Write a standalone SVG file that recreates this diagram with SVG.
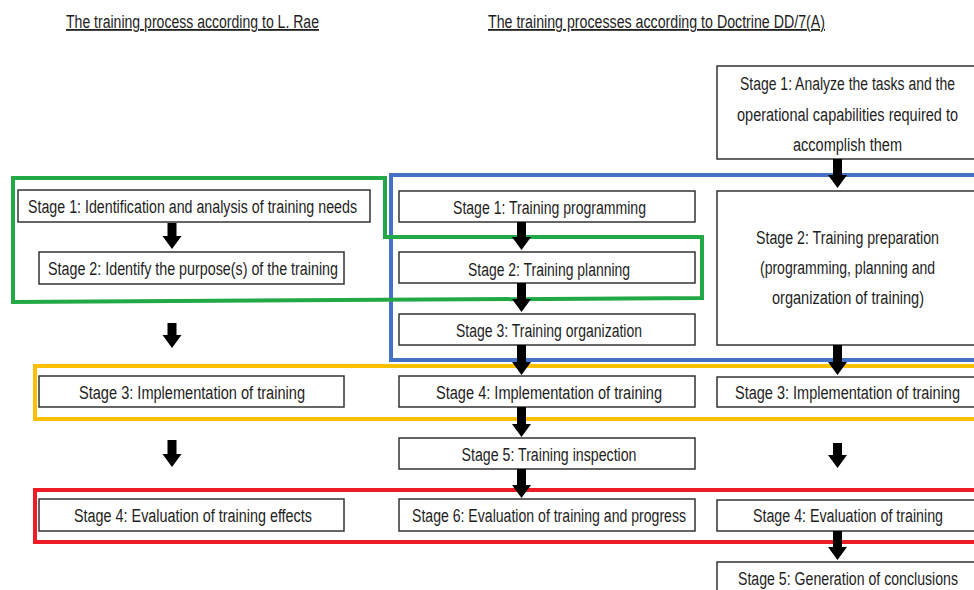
<svg xmlns="http://www.w3.org/2000/svg" width="974" height="590" viewBox="0 0 974 590">
<style>
  text { font-family: "Liberation Sans Narrow", "Liberation Sans", Arial, sans-serif; font-size: 18px; fill: #1e1e1e; text-anchor: middle; }
  .title { text-decoration: underline; }
  .box { fill: #fff; stroke: #333; stroke-width: 1.5; }
  .bg { fill: #fff; stroke: none; }
  .edge { fill: none; stroke: #333; stroke-width: 1.5; }
  .grp { fill: none; stroke-width: 4; stroke-linejoin: miter; }
  .arr { fill: #000; }
</style>
<rect width="974" height="590" fill="#fff"/>

<g id="titles">
  <text class="title" x="192.5" y="28" textLength="253" lengthAdjust="spacingAndGlyphs">The training process according to L. Rae</text>
  <text class="title" x="656.5" y="28" textLength="337" lengthAdjust="spacingAndGlyphs">The training processes according to Doctrine DD/7(A)</text>
</g>

<g id="groupings">
  <path id="blue-frame" class="grp" stroke="#4472C4" d="M974,175 H391 V360 H974"/>
  <path id="green-frame" class="grp" stroke="#22A845" d="M13,178 H385 V237 H702 V298 L13,302 Z"/>
  <path id="yellow-frame" class="grp" stroke="#FFC000" d="M974,366 H35 V419 H974"/>
  <path id="red-frame" class="grp" stroke="#EE1C25" d="M974,490 H35 V542 H974"/>
</g>

<g id="rae-s1"><rect class="box" x="18" y="190" width="352" height="32"/><text x="192.5" y="213" textLength="329" lengthAdjust="spacingAndGlyphs">Stage 1: Identification and analysis of training needs</text></g>
<g id="rae-s2"><rect class="box" x="39" y="252" width="305" height="32"/><text x="193" y="275" textLength="290" lengthAdjust="spacingAndGlyphs">Stage 2: Identify the purpose(s) of the training</text></g>
<g id="rae-s3"><rect class="box" x="39" y="376" width="305" height="31"/><text x="192" y="399" textLength="226" lengthAdjust="spacingAndGlyphs">Stage 3: Implementation of training</text></g>
<g id="rae-s4"><rect class="box" x="39" y="499" width="305" height="32"/><text x="193" y="522" textLength="238" lengthAdjust="spacingAndGlyphs">Stage 4: Evaluation of training effects</text></g>

<g id="dd-s1"><rect class="box" x="399" y="191" width="296" height="31"/><text x="549.5" y="214" textLength="193" lengthAdjust="spacingAndGlyphs">Stage 1: Training programming</text></g>
<g id="dd-s2"><rect class="box" x="399" y="252" width="296" height="31"/><text x="549" y="276" textLength="162" lengthAdjust="spacingAndGlyphs">Stage 2: Training planning</text></g>
<g id="dd-s3"><rect class="box" x="399" y="314" width="296" height="31"/><text x="549" y="337" textLength="186" lengthAdjust="spacingAndGlyphs">Stage 3: Training organization</text></g>
<g id="dd-s4"><rect class="box" x="399" y="376" width="296" height="31"/><text x="549" y="399" textLength="226" lengthAdjust="spacingAndGlyphs">Stage 4: Implementation of training</text></g>
<g id="dd-s5"><rect class="box" x="399" y="438" width="296" height="31"/><text x="549" y="461" textLength="175" lengthAdjust="spacingAndGlyphs">Stage 5: Training inspection</text></g>
<g id="dd-s6"><rect class="box" x="399" y="499" width="296" height="32"/><text x="549" y="522" textLength="274" lengthAdjust="spacingAndGlyphs">Stage 6: Evaluation of training and progress</text></g>

<g id="r-s1"><rect class="bg" x="717" y="66" width="257" height="93"/><path class="edge" d="M974,66 H717 V159 H974"/>
  <text x="847.5" y="90" textLength="215" lengthAdjust="spacingAndGlyphs">Stage 1: Analyze the tasks and the</text>
  <text x="847.5" y="121" textLength="221" lengthAdjust="spacingAndGlyphs">operational capabilities required to</text>
  <text x="847.5" y="151" textLength="109" lengthAdjust="spacingAndGlyphs">accomplish them</text></g>
<g id="r-s2"><rect class="bg" x="717" y="191" width="257" height="154"/><path class="edge" d="M974,191 H717 V345 H974"/>
  <text x="847.5" y="244" textLength="183" lengthAdjust="spacingAndGlyphs">Stage 2: Training preparation</text>
  <text x="847.5" y="274" textLength="175" lengthAdjust="spacingAndGlyphs">(programming, planning and</text>
  <text x="848" y="304" textLength="152" lengthAdjust="spacingAndGlyphs">organization of training)</text></g>
<g id="r-s3"><rect class="bg" x="717" y="377" width="257" height="30"/><path class="edge" d="M974,377 H717 V407 H974"/><text x="847.5" y="399" textLength="225" lengthAdjust="spacingAndGlyphs">Stage 3: Implementation of training</text></g>
<g id="r-s4"><rect class="bg" x="717" y="500" width="257" height="31"/><path class="edge" d="M974,500 H717 V531 H974"/><text x="848" y="522" textLength="190" lengthAdjust="spacingAndGlyphs">Stage 4: Evaluation of training</text></g>
<g id="r-s5"><rect class="bg" x="717" y="562" width="257" height="28"/><path class="edge" d="M974,562 H717 V590"/><text x="848" y="585" textLength="220" lengthAdjust="spacingAndGlyphs">Stage 5: Generation of conclusions</text></g>

<g id="connectors">
  <polygon class="arr" points="167.5,223 176.5,223 176.5,236 181.5,236 172,249 162.5,236 167.5,236"/>
  <polygon class="arr" points="167.5,323 176.5,323 176.5,335 181.5,335 172,348 162.5,335 167.5,335"/>
  <polygon class="arr" points="167.5,440 176.5,440 176.5,454 181.5,454 172,467 162.5,454 167.5,454"/>

  <polygon class="arr" points="517,222 526,222 526,237 531,237 521.5,250 512,237 517,237"/>
  <polygon class="arr" points="517,283 526,283 526,299 531,299 521.5,312 512,299 517,299"/>
  <polygon class="arr" points="517,345 526,345 526,362 531,362 521.5,375 512,362 517,362"/>
  <polygon class="arr" points="517,407 526,407 526,424 531,424 521.5,437 512,424 517,424"/>
  <polygon class="arr" points="517,469 526,469 526,485 531,485 521.5,498 512,485 517,485"/>

  <polygon class="arr" points="833,159 842,159 842,175 847,175 837.5,188 828,175 833,175"/>
  <polygon class="arr" points="833,345 842,345 842,362 847,362 837.5,375 828,362 833,362"/>
  <polygon class="arr" points="833,443 842,443 842,455 847,455 837.5,468 828,455 833,455"/>
  <polygon class="arr" points="833,531 842,531 842,547 847,547 837.5,560 828,547 833,547"/>
</g>
</svg>
